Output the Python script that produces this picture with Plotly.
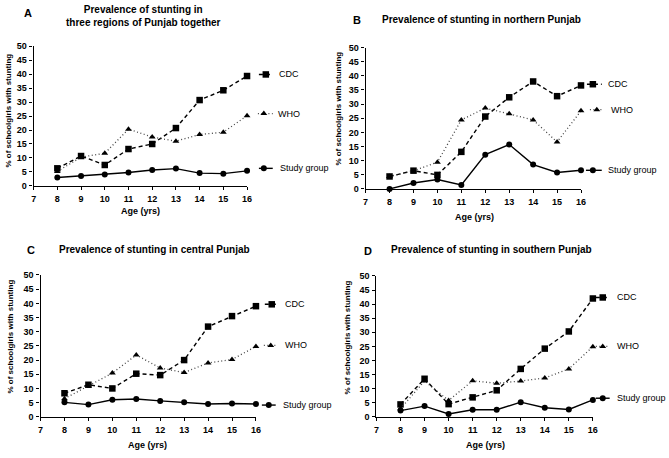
import plotly.graph_objects as go

W, H = 669, 458

ages = [8, 9, 10, 11, 12, 13, 14, 15, 16]

cdc_A = [6.3, 10.7, 7.5, 13.2, 15.0, 20.7, 30.7, 34.2, 39.3]
who_A = [5.2, 10.3, 11.7, 20.3, 17.5, 16.0, 18.4, 19.2, 25.1]
study_A = [3.0, 3.6, 4.1, 4.8, 5.7, 6.2, 4.6, 4.4, 5.4]

cdc_B = [4.4, 6.45, 4.95, 13.1, 25.6, 32.4, 38.0, 32.8, 36.6]
who_B = [4.4, 6.4, 9.45, 24.4, 28.6, 26.6, 24.4, 16.6, 27.6]
study_B = [0.0, 2.1, 3.3, 1.4, 12.1, 15.7, 8.6, 5.8, 6.6]

cdc_C = [8.3, 11.3, 10.0, 15.2, 14.7, 20.0, 31.8, 35.5, 39.0]
who_C = [6.4, 10.9, 15.4, 21.8, 17.2, 15.6, 19.0, 20.2, 24.8]
study_C = [5.1, 4.3, 6.0, 6.3, 5.6, 5.1, 4.5, 4.7, 4.5]

cdc_D = [4.4, 13.5, 4.5, 6.9, 9.4, 17.0, 24.2, 30.3, 42.0]
who_D = [2.9, 12.7, 5.8, 12.8, 11.9, 12.7, 13.8, 17.0, 24.9]
study_D = [2.2, 3.8, 1.0, 2.5, 2.5, 5.2, 3.2, 2.6, 6.0]

panel_letters = ["A", "B", "C", "D"]
panel_titles = [
    "Prevalence of stunting in<br>three regions of Punjab together",
    "Prevalence of stunting in northern Punjab",
    "Prevalence of stunting in central Punjab",
    "Prevalence of stunting in southern Punjab",
]
series_names = ["CDC", "WHO", "Study group"]
x_ticks = [7, 8, 9, 10, 11, 12, 13, 14, 15, 16]
y_ticks = list(range(0, 55, 5))
x_title = "Age (yrs)"
y_title = "% of schoolgirls with stunting"

panels = [
    (cdc_A, who_A, study_A),
    (cdc_B, who_B, study_B),
    (cdc_C, who_C, study_C),
    (cdc_D, who_D, study_D),
]

FONT = "Liberation Sans, Arial, sans-serif"

# plot-area pixel boxes (left, right, top, bottom)
boxes = [
    (31, 247, 42, 185),
    (367, 585, 43.5, 188),
    (38, 256, 276, 421),
    (378, 597, 277, 421),
]

def px(x):
    return x / W

def py(y):
    return 1 - y / H

styles = [
    dict(line=dict(color="black", width=1.4, dash="4px,3px"),
         marker=dict(symbol="square", size=6.5, color="black")),
    dict(line=dict(color="#444444", width=1.3, dash="1px,2.5px"),
         marker=dict(symbol="triangle-up", size=6, color="black")),
    dict(line=dict(color="black", width=1.4),
         marker=dict(symbol="circle", size=6, color="black")),
]

fig = go.Figure()
layout = dict(
    width=W, height=H, margin=dict(l=0, r=0, t=0, b=0),
    paper_bgcolor="white", plot_bgcolor="rgba(0,0,0,0)", showlegend=False,
    font=dict(family=FONT, color="black"),
)

annotations = []
for i, (series, box) in enumerate(zip(panels, boxes)):
    n = i + 1
    xa = "x" if n == 1 else f"x{n}"
    ya = "y" if n == 1 else f"y{n}"
    l, r, t, b = box
    for vals, st, name in zip(series, styles, series_names):
        fig.add_trace(go.Scatter(
            x=ages, y=vals, mode="lines+markers", name=name,
            line=st["line"], marker=st["marker"],
            xaxis=xa, yaxis=ya, cliponaxis=False,
        ))
    axis_common = dict(
        showline=True, linecolor="black", linewidth=1.3,
        ticks="outside", ticklen=3, tickwidth=1.2, tickcolor="black",
        showgrid=False, zeroline=False,
        tickfont=dict(family=FONT, size=9, color="black", weight="bold"),
    )
    layout["xaxis" if n == 1 else f"xaxis{n}"] = dict(
        axis_common, domain=[px(l), px(r)], range=[7, 16],
        tickvals=x_ticks, anchor=ya, ticklabelstandoff=1,
    )
    layout["yaxis" if n == 1 else f"yaxis{n}"] = dict(
        axis_common, domain=[py(b), py(t)], range=[0, 50],
        tickvals=y_ticks, anchor=xa, ticklabelstandoff=1,
    )

# overlay pixel axis for legend samples
layout["xaxis5"] = dict(domain=[0, 1], range=[0, W], visible=False, anchor="y5")
layout["yaxis5"] = dict(domain=[0, 1], range=[H, 0], visible=False, anchor="x5")

legend_pos = [
    # (line x0, line x1, marker x, y, text x) for CDC, WHO, Study
    [(259, 273, 266, 71, 277), (258, 273, 264, 111, 276), (259, 273, 264, 167, 278)],
    [(591, 606, 597, 81, 610), (594, 607, 601, 107, 613), (590, 606, 597, 169, 610)],
    [(265, 279, 272, 306, 283), (264, 278, 271, 348, 283), (262, 276, 269, 409, 281)],
    [(600, 614, 607, 299, 619), (600, 614, 607, 349, 619), (600, 614, 607, 402, 619)],
]

for pos in legend_pos:
    for (x0, x1, mx, y, tx), st, name in zip(pos, styles, series_names):
        fig.add_trace(go.Scatter(x=[x0, x1], y=[y, y], mode="lines", line=st["line"],
                                 xaxis="x5", yaxis="y5", hoverinfo="skip"))
        fig.add_trace(go.Scatter(x=[mx], y=[y], mode="markers", marker=st["marker"],
                                 xaxis="x5", yaxis="y5", hoverinfo="skip"))
        annotations.append(dict(
            x=px(tx), y=py(y), xref="paper", yref="paper", text=name,
            showarrow=False, xanchor="left", yanchor="middle",
            font=dict(family=FONT, size=9, color="black"),
        ))

letter_pos = [(25, 8), (358, 15), (28, 250), (369, 251)]
title_pos = [(142, 11.5, "center"), (382, 15, "left"), (55, 250, "left"), (391, 250, "left")]
xt_pos = [(139, 211), (477, 217), (146, 450), (488, 450)]
yt_pos = [(6, 108), (340, 106), (8, 339), (349, 340)]

for i in range(4):
    lx, ly = letter_pos[i]
    annotations.append(dict(
        x=px(lx), y=py(ly), xref="paper", yref="paper", text=f"<b>{panel_letters[i]}</b>",
        showarrow=False, xanchor="center", yanchor="middle",
        font=dict(family=FONT, size=11, color="black"),
    ))
    tx, ty, anc = title_pos[i]
    annotations.append(dict(
        x=px(tx), y=py(ty), xref="paper", yref="paper", text=f"<b>{panel_titles[i]}</b>",
        showarrow=False, xanchor=anc, yanchor="middle", align="center",
        font=dict(family=FONT, size=10, color="black"),
    ))
    ax, ay = xt_pos[i]
    annotations.append(dict(
        x=px(ax), y=py(ay), xref="paper", yref="paper", text=f"<b>{x_title}</b>",
        showarrow=False, xanchor="center", yanchor="middle",
        font=dict(family=FONT, size=9, color="black"),
    ))
    yx, yy = yt_pos[i]
    annotations.append(dict(
        x=px(yx), y=py(yy), xref="paper", yref="paper", text=f"<b>{y_title}</b>",
        showarrow=False, xanchor="center", yanchor="middle", textangle=-90,
        font=dict(family=FONT, size=8, color="black"),
    ))

layout["annotations"] = annotations
fig.update_layout(**layout)
fig.write_html(
    "out.html",
    config={"displayModeBar": False},
    post_script="document.body.style.margin='0';document.body.style.padding='0';",
)
